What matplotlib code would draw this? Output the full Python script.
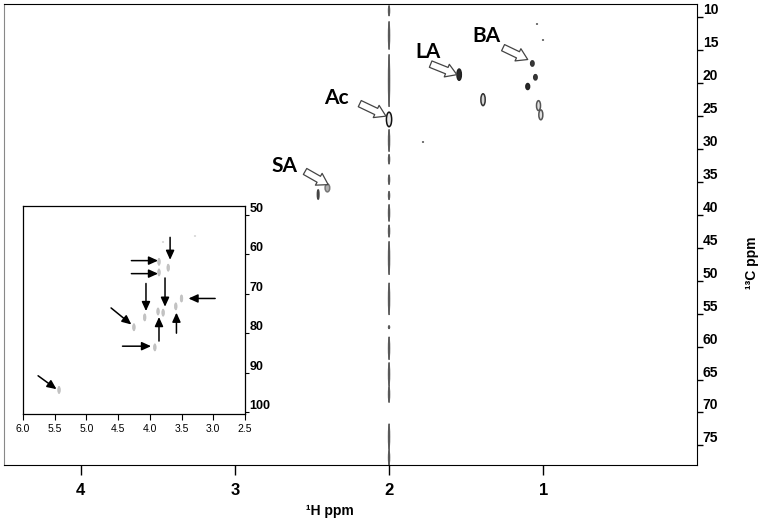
import matplotlib
matplotlib.use("Agg")
import matplotlib.pyplot as plt
from matplotlib.patches import Ellipse

# main spectrum: cross peaks (1H, 13C)
peak_h = [1.545, 1.39, 1.07, 1.05, 1.10, 1.03, 1.015, 2.00, 2.40, 2.46]
peak_c = [18.7, 22.5, 17.0, 19.1, 20.5, 23.4, 24.8, 25.5, 35.9, 36.9]
# weak single points
dot_h = [1.04, 1.00, 1.78]
dot_c = [11.0, 13.5, 29.0]
# t1-noise streak at 2.0 ppm (13C start, end)
streak_h = 2.0
streak_start = [8.2, 10.6, 15.6, 27.0, 30.8, 33.9, 36.4, 38.4, 41.5, 44.0, 50.3, 56.8, 58.5, 62.4, 66.0, 71.7, 75.7]
streak_end = [9.8, 14.9, 23.6, 30.4, 32.3, 35.4, 37.7, 41.0, 43.4, 49.1, 55.2, 57.3, 62.0, 66.0, 68.5, 75.7, 78.0]

# labelled compounds: text position and arrow (tail -> head)
labels = ["Ac", "SA", "LA", "BA"]
label_h = [2.34, 2.68, 1.75, 1.37]
label_c = [22.2, 32.6, 15.3, 12.9]
arrow_tail_h = [2.19, 2.545, 1.73, 1.26]
arrow_tail_c = [23.1, 33.4, 17.1, 14.6]
arrow_head_h = [2.02, 2.395, 1.56, 1.10]
arrow_head_c = [25.0, 35.4, 18.7, 16.4]

# inset: carbohydrate region
inset_h = [3.855, 3.855, 3.71, 3.50, 3.59, 3.87, 3.79, 4.08, 4.25, 3.92, 5.43]
inset_c = [61.9, 64.6, 63.4, 71.2, 73.2, 74.5, 74.8, 76.0, 78.5, 83.6, 94.4]
inset_dot_h = [3.29, 3.79]
inset_dot_c = [55.3, 56.8]
# inset arrows (tail_h, tail_c, head_h, head_c)
inset_arrows = [
    (3.68, 55.7, 3.68, 61.4),
    (4.29, 61.6, 3.87, 61.6),
    (4.29, 64.9, 3.87, 64.9),
    (4.06, 67.4, 4.06, 74.4),
    (3.76, 66.0, 3.76, 73.3),
    (2.97, 71.2, 3.39, 71.2),
    (4.61, 73.6, 4.29, 77.8),
    (3.855, 82.0, 3.855, 75.9),
    (3.58, 80.0, 3.58, 74.8),
    (4.43, 83.3, 3.98, 83.3),
    (5.76, 90.8, 5.47, 94.2),
]

main_xticks = [4, 3, 2, 1]
main_yticks = list(range(10, 80, 5))
inset_xticks = [6.0, 5.5, 5.0, 4.5, 4.0, 3.5, 3.0, 2.5]
inset_yticks = [50, 60, 70, 80, 90, 100]

plt.rcParams['font.family'] = ['Liberation Sans', 'DejaVu Sans']

fig = plt.figure(figsize=(7.62, 5.25), dpi=100)
ax = fig.add_axes([0.005, 0.114, 0.91, 0.878])
ax.set_xlim(4.5, 0.0)
ax.set_ylim(78, 8)

# streak
for s, e in zip(streak_start, streak_end):
    ax.add_patch(Ellipse((streak_h, (s + e) / 2), 0.011, e - s,
                         fc="#555555", ec="#444444", lw=0.5))

# peaks: style per peak
peak_w = [0.028, 0.028, 0.022, 0.022, 0.024, 0.026, 0.026, 0.034, 0.03, 0.01]
peak_hgt = [1.7, 1.8, 0.8, 0.8, 0.9, 1.5, 1.5, 2.2, 1.2, 1.4]
peak_fc = ["#2a2a2a", "#d8d8d8", "#3a3a3a", "#3a3a3a", "#2a2a2a", "#e0e0e0", "#e0e0e0",
           "#e8e8e8", "#b0b0b0", "#555555"]
peak_ec = ["#222222", "#333333", "#333333", "#333333", "#222222", "#555555", "#555555",
           "#111111", "#777777", "#444444"]
for x, y, w, h, fc, ec in zip(peak_h, peak_c, peak_w, peak_hgt, peak_fc, peak_ec):
    ax.add_patch(Ellipse((x, y), w, h, fc=fc, ec=ec, lw=1.1))
ax.scatter(dot_h, dot_c, s=2, color="#777777", marker="|")

for t, lx, ly, tx, ty, hx, hy in zip(labels, label_h, label_c, arrow_tail_h, arrow_tail_c,
                                     arrow_head_h, arrow_head_c):
    ax.text(lx, ly, t, fontsize=15, fontweight="bold", family="Lato",
            ha="center", va="center")
    ax.annotate("", xy=(hx, hy), xytext=(tx, ty),
                arrowprops=dict(arrowstyle="simple,head_length=0.6,head_width=0.75,tail_width=0.38",
                                fc="white", ec="#444444", lw=0.9, mutation_scale=13,
                                shrinkA=0, shrinkB=0))

ax.set_xticks(main_xticks)
ax.set_xticklabels([str(v) for v in main_xticks], fontsize=12, fontweight="bold")
ax.set_yticks(main_yticks)
ax.set_yticklabels([str(v) for v in main_yticks], fontsize=10, fontweight="bold")
ax.yaxis.tick_right()
ax.tick_params(axis="x", direction="out", length=7, width=1, pad=6)
ax.tick_params(axis="y", direction="out", length=4, width=1, pad=0)
for lbl in ax.get_yticklabels():
    lbl.set_va("bottom")
ax.spines["left"].set_color("#888888")
ax.set_xlabel("¹H ppm", fontsize=10, fontweight="bold")
ax.xaxis.set_label_coords(0.47, -0.085)
ax.set_ylabel("¹³C ppm", fontsize=10, fontweight="bold")
ax.yaxis.set_label_position("right")
ax.yaxis.set_label_coords(1.069, 0.44)

# inset
ins = fig.add_axes([0.030, 0.2114, 0.2915, 0.3966])
ins.set_xlim(6.0, 2.5)
ins.set_ylim(100.5, 47.7)
for x, y in zip(inset_h, inset_c):
    ins.add_patch(Ellipse((x, y), 0.04, 1.8, fc="#c4c4c4", ec="#bbbbbb", lw=0.5))
ins.scatter(inset_dot_h, inset_dot_c, s=3, color="#dddddd", marker="|")
for tx, ty, hx, hy in inset_arrows:
    ins.annotate("", xy=(hx, hy), xytext=(tx, ty),
                 arrowprops=dict(arrowstyle="-|>,head_length=0.55,head_width=0.25",
                                 color="black", lw=1.1, shrinkA=0, shrinkB=0))
ins.set_xticks(inset_xticks)
ins.set_xticklabels([f"{v:.1f}" for v in inset_xticks], fontsize=7.5)
ins.set_yticks(inset_yticks)
ins.set_yticklabels([str(v) for v in inset_yticks], fontsize=9, fontweight="bold")
ins.yaxis.tick_right()
ins.tick_params(axis="x", direction="out", length=4, width=0.8, pad=3)
ins.tick_params(axis="y", direction="out", length=3, width=0.8, pad=0)
for lbl in ins.get_yticklabels():
    lbl.set_va("bottom")
for sp in ins.spines.values():
    sp.set_linewidth(0.9)

fig.savefig("out.png", dpi=100)
